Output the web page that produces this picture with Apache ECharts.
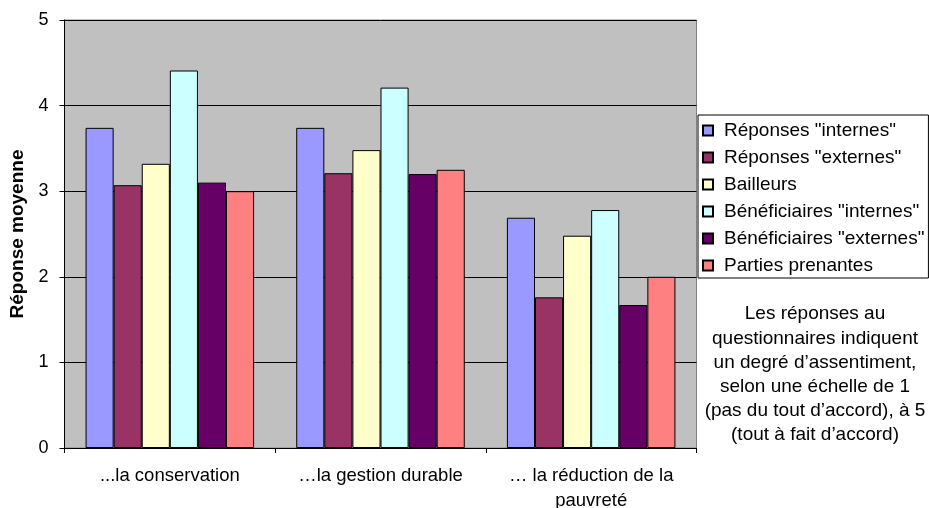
<!DOCTYPE html>
<html>
<head>
<meta charset="utf-8">
<script src="https://cdn.jsdelivr.net/npm/echarts@6/dist/echarts.min.js"></script>
<style>
html,body{margin:0;padding:0;background:#fff;}
#c{width:929px;height:508px;}
</style>
</head>
<body>
<div id="c"></div>
<script>
var categories = ['...la conservation', '\u2026la gestion durable', '\u2026 la r\u00e9duction de la\npauvret\u00e9'];
var seriesNames = ['R\u00e9ponses "internes"', 'R\u00e9ponses "externes"', 'Bailleurs', 'B\u00e9n\u00e9ficiaires "internes"', 'B\u00e9n\u00e9ficiaires "externes"', 'Parties prenantes'];
var reponsesInternes = [3.74, 3.74, 2.69];
var reponsesExternes = [3.07, 3.21, 1.76];
var bailleurs = [3.32, 3.48, 2.48];
var beneficiairesInternes = [4.41, 4.21, 2.78];
var beneficiairesExternes = [3.10, 3.20, 1.67];
var partiesPrenantes = [3.00, 3.25, 2.00];
var yTicks = [0, 1, 2, 3, 4, 5];
var colors = ['#9999FF', '#993366', '#FFFFCC', '#CCFFFF', '#660066', '#FF8080'];
var noteLines = ['Les r\u00e9ponses au', 'questionnaires indiquent', 'un degr\u00e9 d\u2019assentiment,', 'selon une \u00e9chelle de 1', '(pas du tout d\u2019accord), \u00e0 5', '(tout \u00e0 fait d\u2019accord)'];

var allValues = [reponsesInternes, reponsesExternes, bailleurs, beneficiairesInternes, beneficiairesExternes, partiesPrenantes];
var FONT = '"Liberation Sans", Arial, sans-serif';

var chart = echarts.init(document.getElementById('c'));
var series = allValues.map(function (vals, i) {
  return {
    name: seriesNames[i],
    type: 'bar',
    data: vals,
    barGap: '0%',
    barCategoryGap: '20%',
    itemStyle: { color: colors[i], borderColor: '#000', borderWidth: 1 },
    emphasis: { disabled: true }
  };
});

chart.setOption({
  animation: false,
  textStyle: { fontFamily: FONT },
  grid: { left: 64.5, right: 232.5, top: 20, bottom: 60, containLabel: false, outerBoundsMode: 'none', show: true, backgroundColor: '#C0C0C0', borderColor: '#808080', borderWidth: 1 },
  xAxis: {
    type: 'category',
    data: categories,
    axisLine: { lineStyle: { color: '#000', width: 1 } },
    axisTick: { show: true, length: 5, inside: false, lineStyle: { color: '#000' } },
    axisLabel: { interval: 0, hideOverlap: false, color: '#000', fontSize: 18.5, fontFamily: FONT, margin: 15, lineHeight: 25 }
  },
  yAxis: {
    type: 'value',
    min: yTicks[0],
    max: yTicks[yTicks.length - 1],
    interval: 1,
    name: 'R\u00e9ponse moyenne',
    nameLocation: 'middle',
    nameGap: 37,
    nameRotate: 90,
    nameTextStyle: { color: '#000', fontSize: 19, fontWeight: 'bold', fontFamily: FONT },
    axisLine: { show: true, lineStyle: { color: '#000', width: 1 } },
    axisTick: { show: true, length: 5, lineStyle: { color: '#000' } },
    axisLabel: { color: '#000', fontSize: 18, fontFamily: FONT, margin: 16 },
    splitLine: { show: true, lineStyle: { color: '#000', width: 1 } }
  },
  legend: {
    orient: 'vertical',
    left: 698,
    top: 115,
    padding: [6, 4, 3, 4],
    itemWidth: 10,
    itemHeight: 10,
    itemGap: 8,
    backgroundColor: '#fff',
    borderColor: '#000',
    borderWidth: 1,
    textStyle: { color: '#000', fontSize: 19, fontFamily: FONT, lineHeight: 17, padding: [0, 0, 0, 6] },
    data: seriesNames.map(function (n) { return { name: n, icon: 'rect' }; })
  },
  graphic: [{
    type: 'text',
    left: 700,
    top: 302,
    style: {
      text: noteLines.join('\n'),
      x: 0, y: 0,
      width: 230,
      textAlign: 'center',
      fill: '#000',
      font: '19px ' + FONT,
      lineHeight: 24.2
    }
  }],
  series: series
});
</script>
</body>
</html>
